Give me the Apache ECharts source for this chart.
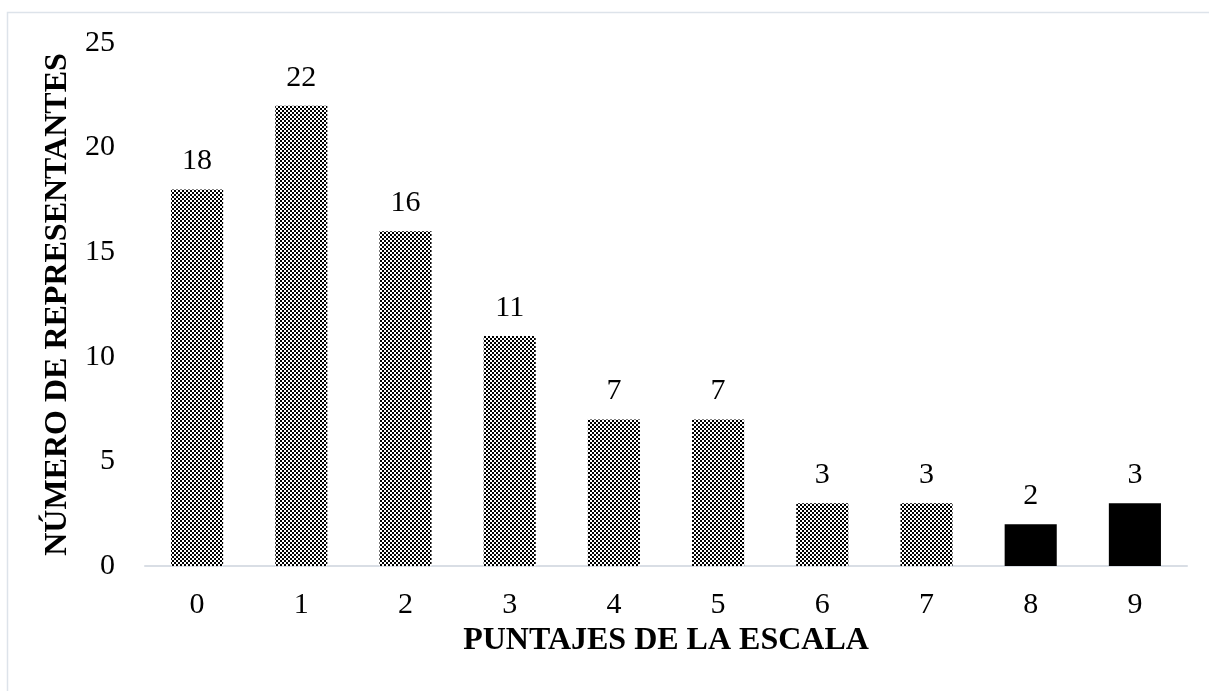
<!DOCTYPE html>
<html><head><meta charset="utf-8">
<script src="https://cdn.jsdelivr.net/npm/echarts@6/dist/echarts.min.js"></script>
<style>html,body{margin:0;padding:0;background:#fff}#c{width:1209px;height:691px}</style>
</head><body><div id="c"></div>
<script>
const categories = ['0','1','2','3','4','5','6','7','8','9'];
const values = [18,22,16,11,7,7,3,3,2,3];
const solidFrom = 8; // categories 8 and 9 are solid black
const yTicks = [0,5,10,15,20,25];

const pc = document.createElement('canvas');
pc.width = 4; pc.height = 4;
const g = pc.getContext('2d');
g.fillStyle = '#fff'; g.fillRect(0,0,4,4);
g.fillStyle = '#000'; g.fillRect(0,0,2,2); g.fillRect(2,2,2,2);
const pattern = {image: pc, repeat: 'repeat'};

const font = '"Liberation Serif","Times New Roman",serif';
const chart = echarts.init(document.getElementById('c'), null, {renderer:'canvas'});
chart.setOption({
  animation:false,
  backgroundColor:'#fff',
  grid:{left:145,right:22,top:43,bottom:125},
  xAxis:{type:'category',data:categories,
    axisLine:{lineStyle:{color:'#d9dee5',width:2}},axisTick:{show:false},
    axisLabel:{color:'#000',fontSize:30,fontFamily:font,margin:24}},
  yAxis:{type:'value',min:yTicks[0],max:yTicks[yTicks.length-1],interval:5,
    splitLine:{show:false},axisLine:{show:false},axisTick:{show:false},
    axisLabel:{color:'#000',fontSize:30,fontFamily:font,margin:30},
    name:'NÚMERO DE REPRESENTANTES',nameLocation:'middle',nameGap:59,nameRotate:90,
    nameTextStyle:{color:'#000',fontSize:32,fontWeight:'bold',fontFamily:font}},
  graphic:[
    {type:'rect',shape:{x:7.5,y:12.5,width:1230,height:720},style:{fill:'none',stroke:'#dde3ea',lineWidth:1.5},silent:true,z:-1},
    {type:'text',x:666,y:641,style:{text:'PUNTAJES DE LA ESCALA',fill:'#000',font:'bold 32px '+font,textAlign:'center',textVerticalAlign:'middle'}}
  ],
  series:[{type:'bar',barWidth:'50%',
    data:values.map((v,i)=>({value:v,itemStyle:{color:i>=solidFrom?'#000':pattern}})),
    label:{show:true,position:'top',distance:13,color:'#000',fontSize:30,fontFamily:font}}]
});
</script></body></html>
